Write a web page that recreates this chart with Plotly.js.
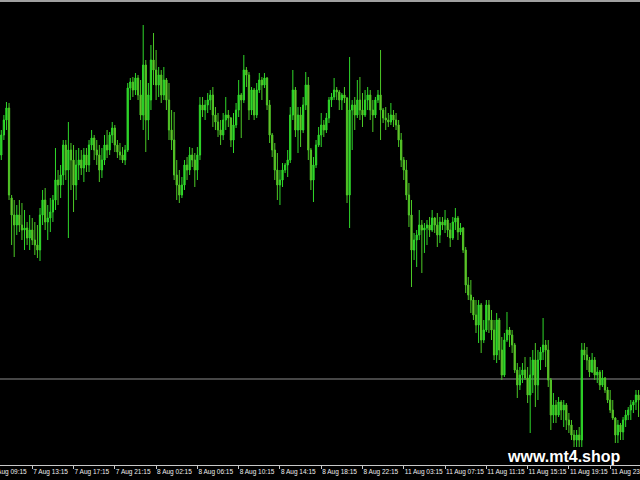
<!DOCTYPE html>
<html>
<head>
<meta charset="utf-8">
<script src="https://cdn.plot.ly/plotly-3.0.1.min.js"></script>
<style>
  html, body { margin: 0; padding: 0; background: #000; overflow: hidden; width: 640px; height: 480px; }
  #chart { position: absolute; left: -12px; top: 0; width: 690px; height: 480px; }
</style>
</head>
<body>
<div id="chart"></div>
<script>
// M15 bars, price in chart points
const openP = [
345,365,380,392,302,285,275,285,275,270,
272,262,270,260,255,250,285,300,278,282,
288,300,320,315,325,355,330,350,340,315,
335,340,332,345,335,355,362,350,345,330,
340,355,350,365,372,355,348,345,340,350,
412,418,410,422,405,385,435,380,400,440,
430,415,425,405,420,400,370,360,325,315,
305,315,335,330,345,340,330,345,395,390,
395,400,405,385,378,370,365,380,385,382,
360,375,390,405,400,430,425,390,410,385,
410,420,415,422,395,365,350,330,315,320,
330,335,340,385,410,370,385,370,395,415,
350,320,335,355,365,375,370,382,400,403,
410,408,400,405,402,305,390,395,385,400,
390,385,400,405,390,385,400,405,390,382,
380,378,385,380,375,360,340,330,305,285,
250,260,265,275,270,272,275,270,282,275,
265,278,275,280,270,262,278,282,268,272,
250,215,205,200,185,175,195,160,170,195,
180,170,145,180,150,125,160,170,165,155,
130,115,125,130,122,105,125,140,115,140,
148,155,150,120,85,95,85,98,90,95,
80,75,65,60,65,60,150,145,140,128,
140,125,128,115,122,110,100,90,82,65,
75,68,80,85,90,95,98,105];
const highP = [
370,385,398,397,305,300,295,300,297,290,
278,285,282,278,275,292,310,312,295,302,
305,352,330,335,360,360,378,357,355,350,
352,350,352,352,360,370,365,360,355,352,
365,370,368,378,375,360,357,353,355,417,
422,423,427,425,420,475,440,417,455,467,
450,433,430,433,422,417,390,388,340,330,
323,340,343,353,352,347,353,403,403,400,
407,410,413,393,387,380,387,403,390,383,
387,397,420,407,445,433,428,413,412,417,
427,423,427,423,400,367,357,347,330,337,
337,350,393,430,413,393,393,403,428,423,
352,343,360,373,387,380,387,403,407,422,
413,410,407,413,403,443,400,403,420,423,
407,410,413,410,400,403,410,450,392,393,
387,397,390,387,380,367,343,340,317,300,
267,270,290,280,277,280,283,290,283,287,
283,283,290,282,277,283,292,284,277,273,
253,223,220,203,200,200,197,180,200,200,
190,180,187,182,163,167,188,173,170,157,
137,133,137,143,133,143,150,157,150,153,
182,160,160,122,107,100,103,100,100,97,
87,80,70,70,73,157,157,153,143,147,
143,133,130,130,123,113,110,100,83,80,
77,83,90,93,100,100,110,110];
const lowP = [
340,360,370,300,255,243,265,268,260,250,
255,250,255,245,242,239,275,270,260,268,
278,290,295,302,315,320,262,310,288,300,
320,325,318,328,328,350,340,335,318,322,
335,342,345,357,348,342,340,337,335,348,
400,403,405,400,380,370,348,360,390,415,
400,403,397,400,390,360,350,320,300,297,
302,310,320,325,333,313,320,340,383,380,
387,390,373,370,363,355,360,370,373,353,
347,372,383,362,397,413,380,385,380,382,
407,400,412,390,357,343,320,300,295,313,
327,323,337,380,363,347,353,367,390,340,
310,298,332,353,353,363,367,377,393,400,
400,390,390,397,297,272,350,370,382,380,
373,383,390,380,368,382,397,360,377,370,
373,375,373,370,353,333,320,300,273,213,
240,233,260,227,247,255,263,268,267,253,
257,270,267,263,253,260,270,260,265,247,
207,200,187,180,167,157,147,157,168,167,
160,140,137,140,120,123,158,153,147,127,
102,110,117,120,97,67,107,93,100,130,
140,133,113,70,77,77,83,80,73,70,
67,60,53,53,53,53,140,130,123,127,
120,117,110,113,107,97,87,80,57,57,
60,60,73,80,80,87,90,83];
const closeP = [
365,380,392,305,285,275,285,275,270,272,
262,270,260,255,250,285,300,278,282,288,
300,320,315,325,355,330,350,340,315,335,
340,332,345,335,355,362,350,345,330,340,
355,350,365,372,355,348,345,340,350,412,
418,410,422,405,385,435,380,405,440,430,
415,425,405,420,400,370,360,325,315,305,
315,335,330,345,340,330,345,395,390,395,
400,405,385,378,370,365,380,385,382,360,
375,390,405,400,430,425,390,410,385,410,
420,415,422,395,365,350,330,315,320,330,
335,340,385,410,370,385,370,395,415,350,
320,335,355,365,375,370,382,400,403,410,
408,400,405,402,305,390,395,385,400,390,
385,400,405,390,385,400,405,390,382,380,
378,385,380,375,360,340,330,305,285,250,
260,265,275,270,272,275,270,282,275,265,
278,275,280,270,262,278,282,268,272,250,
215,205,200,185,175,195,160,170,195,180,
170,145,180,150,125,160,170,165,155,130,
115,125,130,122,105,125,140,115,140,148,
155,150,120,85,95,85,98,90,95,80,
75,65,60,65,60,150,145,140,128,140,
125,128,115,122,110,100,90,82,65,75,
68,80,85,90,95,98,105,100];

// time-scale labels, one every 16 bars (first one is 4 bars before the first visible bar)
const timeLabels = ["7 Aug 09:15","7 Aug 13:15","7 Aug 17:15","7 Aug 21:15","8 Aug 02:15",
  "8 Aug 06:15","8 Aug 10:15","8 Aug 14:15","8 Aug 18:15","8 Aug 22:15",
  "11 Aug 03:15","11 Aug 07:15","11 Aug 11:15","11 Aug 15:15","11 Aug 19:15","11 Aug 23:15"];
const labelBarIndex = [-4,12,28,44,60,76,92,108,124,140,156,172,188,204,220,236];
const bidLevel = 121;

const xIdx = openP.map((_, i) => i);

const trace = {
  type: 'candlestick',
  x: xIdx, open: openP, high: highP, low: lowP, close: closeP,
  increasing: { line: { color: '#2fd82a', width: 1 }, fillcolor: '#2fd82a' },
  decreasing: { line: { color: '#4cc826', width: 1 }, fillcolor: '#93b632' },
  whiskerwidth: 0,
  hoverinfo: 'skip'
};

const layout = {
  width: 690, height: 480,
  margin: { l: 0, r: 0, t: 2, b: 15, pad: 0 },
  paper_bgcolor: '#000000', plot_bgcolor: '#000000',
  showlegend: false,
  xaxis: {
    range: [-5.155, 262.29],
    rangeslider: { visible: false },
    showgrid: false, zeroline: false,
    showline: true, linecolor: '#c8c8c8', linewidth: 1,
    ticks: 'outside', ticklen: 3, tickcolor: '#c8c8c8', tickwidth: 1,
    tickmode: 'array', tickvals: labelBarIndex, ticktext: timeLabels,
    ticklabelposition: 'outside right', tickangle: 0,
    tickfont: { family: 'Liberation Sans, Arial, sans-serif', size: 6.5, color: '#eeeeee' },
    fixedrange: true
  },
  yaxis: {
    range: [35, 498], visible: false, showgrid: false, zeroline: false, fixedrange: true
  },
  shapes: [
    { type: 'line', xref: 'paper', yref: 'y', x0: 0, x1: 1, y0: bidLevel, y1: bidLevel,
      line: { color: '#8c8c8c', width: 1 }, layer: 'below' },
    { type: 'line', xref: 'paper', yref: 'paper', x0: 0, x1: 1, y0: 1.002, y1: 1.002,
      line: { color: '#a0a0a0', width: 2 } }
  ],
  annotations: [
    { text: '<b>www.mt4.shop</b>', xref: 'paper', yref: 'paper',
      x: 0.7493, y: 0.019, xanchor: 'left', yanchor: 'middle', showarrow: false,
      font: { family: 'Liberation Sans, Arial, sans-serif', size: 16, color: '#ffffff' } }
  ]
};

Plotly.newPlot('chart', [trace], layout, { staticPlot: true, displayModeBar: false });
</script>
</body>
</html>
